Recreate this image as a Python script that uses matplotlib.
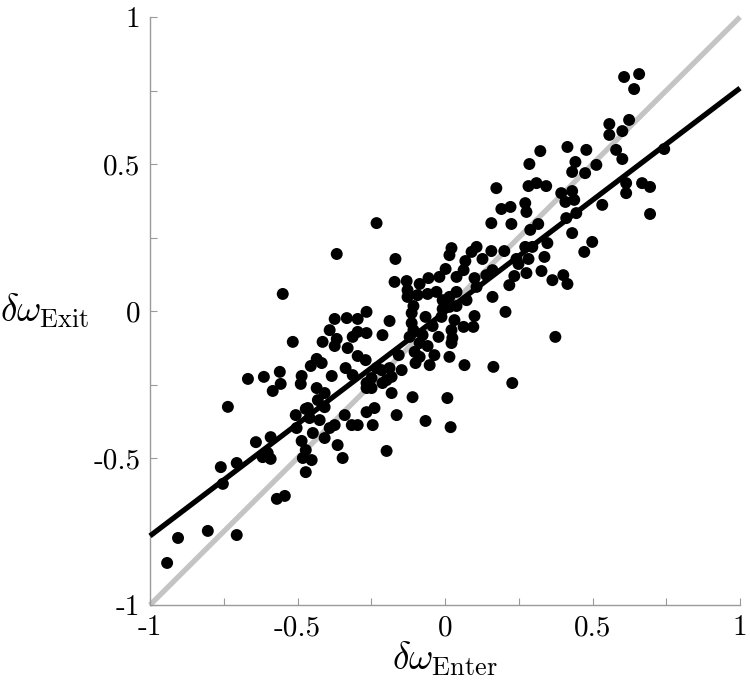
import matplotlib
matplotlib.use("Agg")
import matplotlib.pyplot as plt
import numpy as np

plt.rcParams['mathtext.fontset'] = 'cm'

# scatter data: delta omega at enter (x) and exit (y)
enter = [
    -0.736, -0.942, -0.905, -0.804, -0.706, -0.760, -0.753, -0.706, -0.641, -0.591,
    -0.618, -0.591, -0.601, -0.570, -0.543, -0.506, -0.472, -0.503, -0.486, -0.472,
    -0.482, -0.472,
    -0.668, -0.614, -0.584, -0.560, -0.557, -0.516, -0.486, -0.489, -0.455, -0.435,
    -0.418, -0.415, -0.391, -0.374, -0.333, -0.296, -0.266, -0.188, -0.212, -0.266,
    -0.296, -0.313, -0.367, -0.374, -0.330, -0.384, -0.435, -0.408, -0.431, -0.408,
    -0.465, -0.459, -0.425, -0.452, -0.448, -0.408, -0.391, -0.374, -0.364, -0.347,
    -0.340, -0.316, -0.296, -0.266, -0.239, -0.245, -0.198, -0.337, -0.313, -0.296,
    -0.269, -0.266, -0.249, -0.232, -0.249, -0.198, -0.181, -0.188, -0.164,
    -0.232, 0.157, -0.367, -0.168, 0.022, 0.015, 0.090, 0.107, 0.157, 0.069,
    0.127, 0.002, 0.063, 0.161, -0.171, -0.130, -0.086, -0.056, -0.019, 0.039,
    0.100, 0.140, -0.127, -0.127, -0.093, -0.059, -0.029, -0.008, 0.015, 0.039,
    0.073, 0.107, 0.161, -0.107, -0.113, -0.066, -0.008, 0.015, 0.039, -0.012,
    0.032, 0.100, -0.113, -0.107, -0.042, 0.063, 0.096, 0.022, -0.120, -0.076,
    -0.022, 0.025, -0.086, -0.059, 0.022, -0.103, -0.086, -0.036, -0.052, -0.100,
    0.015, 0.066, 0.164, -0.157, -0.215, -0.147, -0.181, -0.266, -0.212, -0.110,
    0.008, -0.066, 0.019,
    0.323, 0.415, 0.479, 0.442, 0.286, 0.431, 0.475, 0.513, 0.174, 0.283,
    0.310, 0.343, 0.394, 0.431, 0.408, 0.438, 0.272, 0.191, 0.222, 0.276,
    0.225, 0.289, 0.316, 0.411, 0.445, 0.431, 0.499, 0.472, 0.347, 0.272,
    0.296, 0.201, 0.242, 0.283, 0.337, 0.249, 0.327, 0.276, 0.235, 0.218,
    0.364, 0.401, 0.415, 0.205,
    0.607, 0.658, 0.641, 0.624, 0.557, 0.557, 0.601, 0.580, 0.601, 0.743,
    0.614, 0.614, 0.668, 0.695, 0.533, 0.695,
    0.374, 0.228, -0.550,
]
exit_ = [
    -0.326, -0.857, -0.772, -0.748, -0.762, -0.531, -0.588, -0.517, -0.446, -0.429,
    -0.497, -0.503, -0.483, -0.639, -0.629, -0.354, -0.333, -0.398, -0.442, -0.473,
    -0.500, -0.548,
    -0.231, -0.224, -0.272, -0.207, -0.248, -0.105, -0.221, -0.248, -0.187, -0.163,
    -0.177, -0.105, -0.065, -0.027, -0.024, -0.027, -0.003, -0.034, -0.082, -0.075,
    -0.071, -0.088, -0.095, -0.119, -0.126, -0.221, -0.262, -0.279, -0.303, -0.327,
    -0.330, -0.364, -0.371, -0.507, -0.415, -0.432, -0.398, -0.388, -0.456, -0.500,
    -0.354, -0.388, -0.388, -0.344, -0.330, -0.388, -0.476, -0.194, -0.218, -0.153,
    -0.167, -0.262, -0.262, -0.194, -0.228, -0.235, -0.279, -0.194, -0.354,
    0.299, 0.299, 0.194, 0.177, 0.214, 0.190, 0.201, 0.218, 0.204, 0.170,
    0.177, 0.143, 0.139, 0.139, 0.099, 0.102, 0.092, 0.112, 0.116, 0.116,
    0.112, 0.122, 0.071, 0.048, 0.054, 0.058, 0.065, 0.037, 0.048, 0.065,
    0.037, 0.082, 0.048, 0.017, -0.007, -0.020, 0.007, 0.014, 0.017, -0.020,
    -0.031, -0.017, -0.041, -0.065, -0.051, -0.054, -0.054, -0.065, -0.088, -0.082,
    -0.088, -0.092, -0.109, -0.119, -0.109, -0.139, -0.156, -0.150, -0.184, -0.177,
    -0.156, -0.184, -0.190, -0.150, -0.201, -0.201, -0.224, -0.245, -0.245, -0.293,
    -0.296, -0.374, -0.395,
    0.544, 0.558, 0.548, 0.507, 0.500, 0.473, 0.469, 0.497, 0.418, 0.425,
    0.435, 0.425, 0.401, 0.408, 0.371, 0.378, 0.367, 0.347, 0.354, 0.337,
    0.296, 0.276, 0.296, 0.316, 0.333, 0.265, 0.235, 0.201, 0.231, 0.218,
    0.218, 0.204, 0.177, 0.177, 0.184, 0.160, 0.136, 0.129, 0.119, 0.088,
    0.105, 0.122, 0.092, -0.003,
    0.796, 0.806, 0.755, 0.650, 0.636, 0.599, 0.612, 0.548, 0.517, 0.551,
    0.435, 0.401, 0.435, 0.422, 0.361, 0.330,
    -0.088, -0.245, 0.058,
]

# fitted regression line and identity line
fit_x = [-1.0, 1.0]
fit_y = [-0.765, 0.758]
ident_x = [-1.0, 1.0]
ident_y = [-1.0, 1.0]

tick_vals = [-1, -0.75, -0.5, -0.25, 0, 0.25, 0.5, 0.75, 1]
tick_labels = ['-1', '', '-0.5', '', '0', '', '0.5', '', '1']

fig = plt.figure(figsize=(7.5, 6.81), dpi=100)
ax = fig.add_axes([0.2, 0.1116, 0.7867, 0.8634])

ax.plot(ident_x, ident_y, color='#c4c4c4', lw=3.8, solid_capstyle='butt', clip_on=False, zorder=2)
ax.plot(fit_x, fit_y, color='black', lw=3.8, solid_capstyle='butt', clip_on=False, zorder=3)
ax.scatter(enter, exit_, s=74, color='black', edgecolors='none', zorder=4)

ax.set_xlim(-1, 1)
ax.set_ylim(-1, 1)
for side in ['top', 'right']:
    ax.spines[side].set_visible(False)
for side in ['left', 'bottom']:
    ax.spines[side].set_color('#9a9a9a')
    ax.spines[side].set_linewidth(1.0)

ax.set_xticks(tick_vals)
ax.set_yticks(tick_vals)
ax.set_xticklabels(tick_labels, fontfamily='cmr10', fontsize=21)
ax.set_yticklabels(tick_labels, fontfamily='cmr10', fontsize=21)
ax.tick_params(direction='in', length=5, width=0.8, color='#9a9a9a', pad=7)

ax.set_xlabel(r'$\delta\omega_{\mathrm{Enter}}$', fontsize=27, va='center')
ax.set_ylabel(r'$\delta\omega_{\mathrm{Exit}}$', fontsize=27, rotation=0, va='center', ha='center')
ax.xaxis.set_label_coords(0.5, -0.092)
ax.yaxis.set_label_coords(-0.178, 0.5)

fig.savefig('out.png', dpi=100)
